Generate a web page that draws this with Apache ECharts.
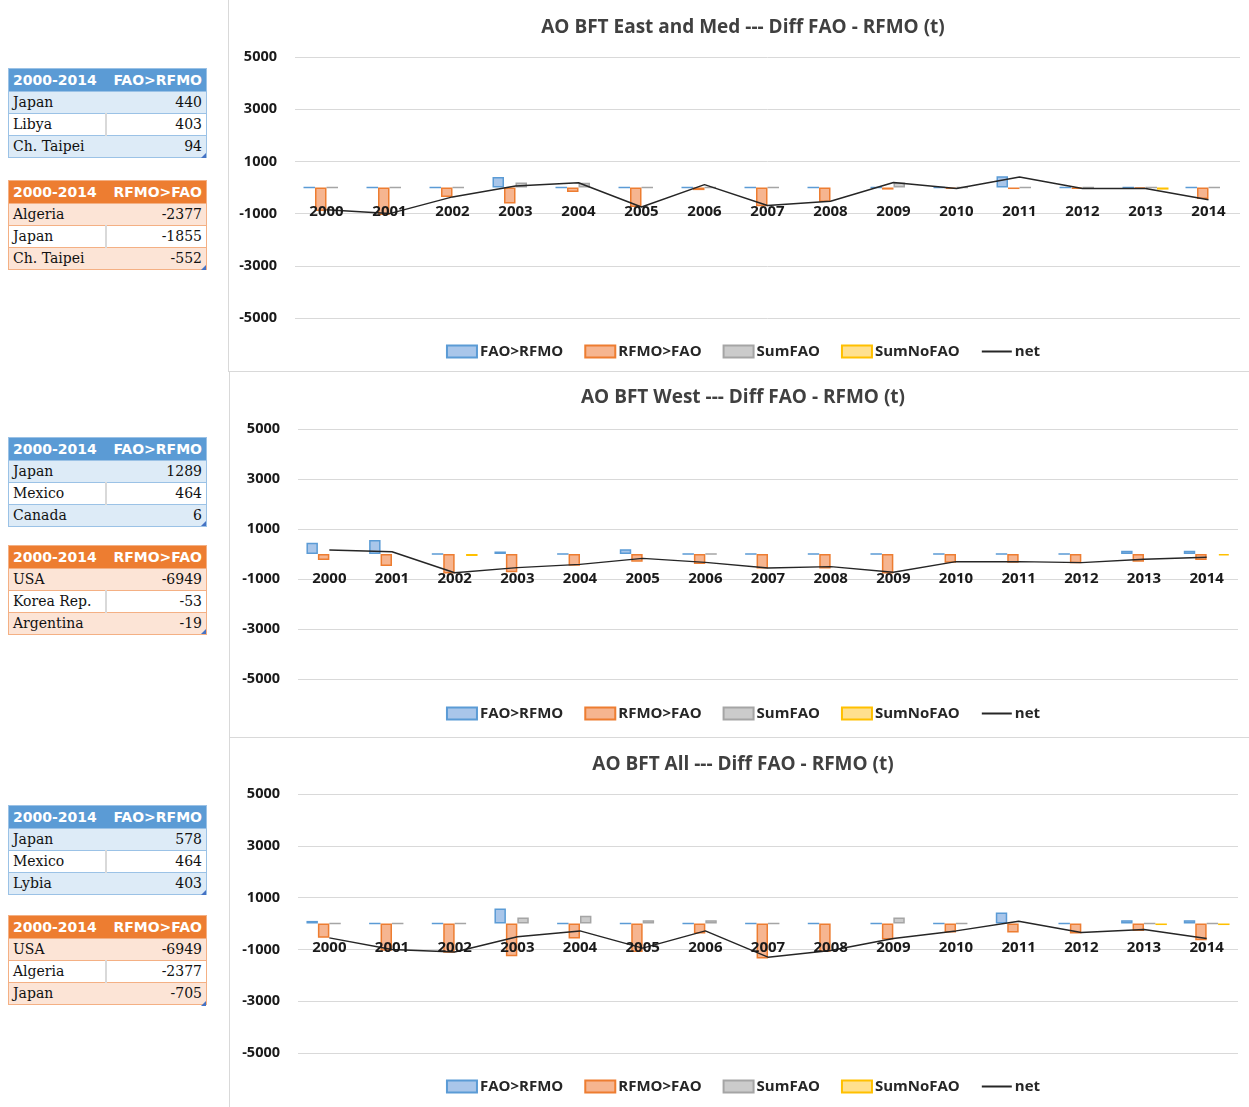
<!DOCTYPE html>
<html><head><meta charset="utf-8">
<script src="https://cdn.jsdelivr.net/npm/echarts@6/dist/echarts.min.js"></script>
<style>
html,body{margin:0;padding:0;background:#fff;width:1249px;height:1107px;overflow:hidden;}
body{position:relative;}
.panel{position:absolute;left:228px;width:1030px;}
.ln{position:absolute;background:#d9d9d9;}
table.tb{position:absolute;left:8px;width:199px;border-collapse:collapse;table-layout:fixed;}
table.tb td{padding:0 4px;height:21px;line-height:21px;overflow:hidden;white-space:nowrap;}
table.tb td.h{font-family:'DejaVu Sans',sans-serif;font-weight:bold;font-size:14px;color:#fff;}
table.tb td.b{font-family:'DejaVu Serif',serif;font-size:14px;color:#111;}
table.tb td.r{text-align:right;}
table.blue{border:1px solid #9bc2e6;}
table.blue tr.hd td{background:#5b9bd5;height:22px;}
table.blue tr.o td{background:#ddebf7;border-top:1px solid #9bc2e6;}
table.blue tr.w td{background:#fff;border-top:1px solid #9bc2e6;}
table.orange{border:1px solid #f4b084;}
table.orange tr.hd td{background:#ed7d31;height:22px;}
table.orange tr.o td{background:#fce4d6;border-top:1px solid #f4b084;}
table.orange tr.w td{background:#fff;border-top:1px solid #f4b084;}
tr.w td.l{border-right:2px solid #d9d9d9;}
.corner{position:absolute;width:0;height:0;border-left:5px solid transparent;border-bottom:5px solid #4472c4;}
</style>
</head><body>
<div class="ln" style="left:228px;top:0;width:1px;height:371px;"></div>
<div class="ln" style="left:228px;top:371px;width:1021px;height:1px;"></div>
<div class="ln" style="left:229px;top:372px;width:1px;height:365px;"></div>
<div class="ln" style="left:229px;top:737px;width:1020px;height:1px;"></div>
<div class="ln" style="left:229px;top:738px;width:1px;height:369px;"></div>
<div id="p1" class="panel" style="top:0;height:371px;"></div>
<div id="p2" class="panel" style="top:372px;height:365px;"></div>
<div id="p3" class="panel" style="top:737px;height:370px;"></div>
<div id="tables"></div>
<script>
// ---- data ----
const years = ['2000','2001','2002','2003','2004','2005','2006','2007','2008','2009','2010','2011','2012','2013','2014'];
const seriesNames = ['FAO>RFMO','RFMO>FAO','SumFAO','SumNoFAO','net'];

// AO BFT East and Med
const eastFaoRfmo  = [0,0,0,405,0,0,0,0,0,0,0,430,0,0,0];
const eastRfmoFao  = [-900,-1050,-360,-615,-170,-745,-100,-720,-560,-80,-50,-60,-50,-40,-440];
const eastSumFao   = [0,0,0,190,180,0,0,0,null,190,0,0,0,0,0];
const eastSumNoFao = [null,null,null,null,null,null,null,null,null,null,null,null,null,-80,null];
const eastNet      = [-850,-1000,-360,60,180,-745,110,-690,-525,190,-40,400,-40,-40,-470];

// AO BFT West
const westFaoRfmo  = [450,560,0,100,0,190,0,0,0,0,0,0,0,130,130];
const westRfmoFao  = [-240,-480,-775,-730,-465,-305,-400,-575,-575,-775,-345,-345,-370,-305,-240];
const westSumFao   = [null,null,null,null,null,null,0,null,null,null,null,null,null,null,null];
const westSumNoFao = [null,null,-80,null,null,null,null,null,null,null,null,null,null,null,-60];
const westNet      = [160,90,-750,-545,-415,-175,-335,-560,-505,-730,-305,-305,-345,-210,-130];

// AO BFT All
const allFaoRfmo   = [100,0,0,580,0,0,0,0,0,0,0,425,0,130,130];
const allRfmoFao   = [-555,-1050,-1130,-1260,-580,-1100,-390,-1350,-1095,-620,-350,-350,-390,-285,-645];
const allSumFao    = [0,0,0,230,300,130,130,0,null,230,0,null,null,0,0];
const allSumNoFao  = [null,null,null,null,null,null,null,null,null,null,null,null,null,-60,-60];
const allNet       = [-555,-1000,-1100,-515,-285,-950,-285,-1300,-1040,-580,-285,90,-350,-230,-580];

const yMin = -5000, yMax = 5000, yStep = 2000;

// side tables
const eastTopCountries = ['Japan','Libya','Ch. Taipei'];
const eastTopValues    = [440,403,94];
const eastLowCountries = ['Algeria','Japan','Ch. Taipei'];
const eastLowValues    = [-2377,-1855,-552];
const westTopCountries = ['Japan','Mexico','Canada'];
const westTopValues    = [1289,464,6];
const westLowCountries = ['USA','Korea Rep.','Argentina'];
const westLowValues    = [-6949,-53,-19];
const allTopCountries  = ['Japan','Mexico','Lybia'];
const allTopValues     = [578,464,403];
const allLowCountries  = ['USA','Algeria','Japan'];
const allLowValues     = [-6949,-2377,-705];

// ---- charts ----
const FONT = "'Open Sans', sans-serif";
const colors = {
  fao:  {fill:'#a9c6ea', stroke:'#5b9bd5'},
  rfmo: {fill:'#f6b590', stroke:'#ed7d31'},
  sum:  {fill:'#cbcbcb', stroke:'#a5a5a5'},
  nofao:{fill:'#ffe08f', stroke:'#ffc000'}
};
function barS(name, data, c){
  return {name, type:'bar', data, barGap:'0%', barCategoryGap:'27%',
    itemStyle:{color:c.fill, borderColor:c.stroke, borderWidth:1.5},
    emphasis:{disabled:true}};
}
function makeOption(title, fao, rfmo, sum, nofao, net, g, legendTop){
  return {
    animation:false,
    title:{text:title, left:'center', top:g.titleTop,
      textStyle:{fontFamily:FONT, fontSize:19, fontWeight:'bold', color:'#404040'}},
    legend:{left:'center', top:legendTop, itemWidth:30, itemHeight:12, itemGap:21,
      data:seriesNames.map((n,i)=>i<4?{name:n, icon:'rect'}:
        {name:n, itemStyle:{color:'rgba(0,0,0,0)', borderColor:'rgba(0,0,0,0)', borderWidth:0}}),
      textStyle:{fontFamily:FONT, fontSize:15, fontWeight:'bold', color:'#262626', padding:[0,0,0,-2]}},
    grid:{left:g.left, top:g.top, width:g.width, height:g.height},
    xAxis:{type:'category', data:years, z:10, position:'bottom', offset:-g.height/2,
      axisLine:{show:false, onZero:false},
      axisTick:{show:false},
      axisLabel:{margin:17, fontFamily:FONT, fontSize:15, fontWeight:'bold', color:'#1a1a1a'}},
    yAxis:{type:'value', min:yMin, max:yMax, interval:yStep,
      axisLine:{show:false}, axisTick:{show:false},
      axisLabel:{margin:18, fontFamily:FONT, fontSize:14.5, fontWeight:'bold', color:'#1a1a1a',
        formatter:v=>String(v)},
      splitLine:{lineStyle:{color:'#d9d9d9', width:1}}},
    series:[
      barS(seriesNames[0], fao, colors.fao),
      barS(seriesNames[1], rfmo, colors.rfmo),
      barS(seriesNames[2], sum, colors.sum),
      barS(seriesNames[3], nofao, colors.nofao),
      {name:seriesNames[4], type:'line', data:net, symbol:'none', z:5,
        lineStyle:{color:'#262626', width:1.5}, itemStyle:{color:'#262626'}, emphasis:{disabled:true}}
    ]
  };
}
const c1 = echarts.init(document.getElementById('p1'), null, {renderer:'canvas'});
c1.setOption(makeOption('AO BFT East and Med --- Diff FAO - RFMO (t)', eastFaoRfmo, eastRfmoFao, eastSumFao, eastSumNoFao, eastNet,
  {left:67, top:57, width:945, height:261, titleTop:13}, 339));
const c2 = echarts.init(document.getElementById('p2'), null, {renderer:'canvas'});
c2.setOption(makeOption('AO BFT West --- Diff FAO - RFMO (t)', westFaoRfmo, westRfmoFao, westSumFao, westSumNoFao, westNet,
  {left:70, top:57, width:940, height:250, titleTop:11}, 329));
const c3 = echarts.init(document.getElementById('p3'), null, {renderer:'canvas'});
c3.setOption(makeOption('AO BFT All --- Diff FAO - RFMO (t)', allFaoRfmo, allRfmoFao, allSumFao, allSumNoFao, allNet,
  {left:70, top:57, width:940, height:259, titleTop:13}, 337));

// ---- tables ----
function makeTable(cls, top, label, names, vals){
  let h = '<table class="tb '+cls+'" style="top:'+top+'px"><colgroup><col style="width:97px"><col></colgroup>';
  h += '<tr class="hd"><td class="h">2000-2014</td><td class="h r">'+label+'</td></tr>';
  names.forEach((n,i)=>{
    h += '<tr class="'+(i===1?'w':'o')+'"><td class="b l">'+n+'</td><td class="b r">'+vals[i]+'</td></tr>';
  });
  h += '</table>';
  return h;
}
let html = '';
html += makeTable('blue', 68, 'FAO&gt;RFMO', eastTopCountries, eastTopValues);
html += makeTable('orange', 180, 'RFMO&gt;FAO', eastLowCountries, eastLowValues);
html += makeTable('blue', 437, 'FAO&gt;RFMO', westTopCountries, westTopValues);
html += makeTable('orange', 545, 'RFMO&gt;FAO', westLowCountries, westLowValues);
html += makeTable('blue', 805, 'FAO&gt;RFMO', allTopCountries, allTopValues);
html += makeTable('orange', 915, 'RFMO&gt;FAO', allLowCountries, allLowValues);
[153,265,521,629,890,1001].forEach(t=>{ html += '<div class="corner" style="left:201px;top:'+t+'px"></div>'; });
document.getElementById('tables').innerHTML = html;
</script>
</body></html>
